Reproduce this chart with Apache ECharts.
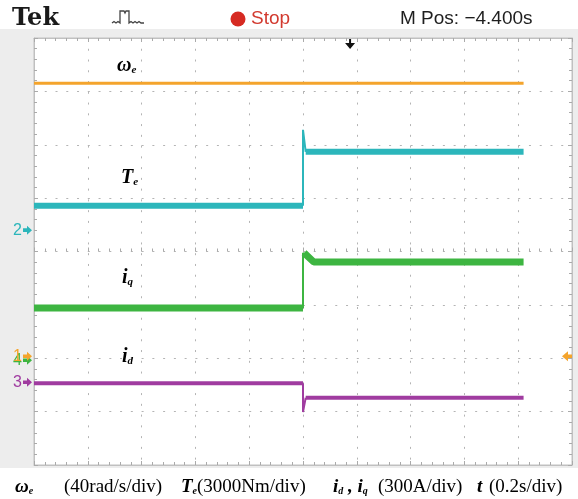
<!DOCTYPE html>
<html>
<head>
<meta charset="utf-8">
<script src="https://cdn.jsdelivr.net/npm/echarts@6/dist/echarts.min.js"></script>
<style>
  html, body { margin: 0; padding: 0; background: #fff; }
  #chart-container { width: 578px; height: 499px; }
</style>
</head>
<body>
<div id="chart-container"></div>
<script>
// time knots (s): load step and end of record
const stepTime = 1.0;
const endTime = 1.82;

// levels, in physical units
const omegaLevels = [206, 206];        // rad/s before / after step
const teLevels = [1370, 4400];         // Nm
const tePeak = 5640;
const iqLevels = [283, 541];           // A
const iqPeak = 592;
const idLevels = [-5, -87];            // A
const idPeak = -167;

// per-division scales and ground markers (divisions from screen centre)
const scales = { omega: 40, te: 3000, idq: 300 };
const grounds = { ch1: -2, ch2: 0.4, ch3: -2.45, ch4: -2 };

const colors = {
  ch1: "#f4a42c",
  ch2: "#2cb6bb",
  ch3: "#a03ca0",
  ch4: "#3db541",
};

function div(v, scale, ground) {
  return ground + v / scale;
}

// flat trace, thin edge at the step, flat trace again
function stepSeries(name, levels, peak, scale, ground, color, width, settle, thickOvershoot) {
  const a = div(levels[0], scale, ground);
  const b = div(levels[1], scale, ground);
  const p = div(peak, scale, ground);
  const after = thickOvershoot
    ? [[stepTime + 0.004, p], [stepTime + settle, b], [endTime, b]]
    : [[stepTime + settle, b], [endTime, b]];
  return [
    {
      name: name,
      type: "line",
      symbol: "none",
      color: color,
      lineStyle: { width: width, cap: "butt" },
      data: [[0, a], [stepTime, a]],
    },
    {
      name: name,
      type: "line",
      symbol: "none",
      color: color,
      lineStyle: { width: 2 },
      data: [[stepTime, a], [stepTime, p], [stepTime + settle, b]],
    },
    {
      name: name,
      type: "line",
      symbol: "none",
      color: color,
      lineStyle: { width: width, cap: "butt" },
      data: after,
    },
  ];
}

const dom = document.getElementById("chart-container");
const myChart = echarts.init(dom, null, { renderer: "canvas" });

const gridLine = {
  show: true,
  lineStyle: { color: "#b4b4b4", width: 1, type: [2, 8.76] },
};

function frameAxis(extra) {
  return Object.assign(
    {
      type: "value",
      axisLabel: { show: false },
      axisLine: { show: true, lineStyle: { color: "#c0c0c0" } },
      axisTick: { show: true, inside: true, length: 4, lineStyle: { color: "#aaa" } },
      minorTick: { show: true, splitNumber: 5, length: 3, lineStyle: { color: "#aaa" } },
      splitLine: { show: false },
    },
    extra
  );
}

const option = {
  animation: false,
  backgroundColor: "#fff",
  grid: {
    left: 34,
    right: 6,
    top: 38,
    bottom: 34,
    show: true,
    backgroundColor: "#fff",
    borderColor: "#c0c0c0",
    borderWidth: 1,
  },
  xAxis: [
    frameAxis({ position: "bottom", min: 0, max: 2, interval: 0.2, splitLine: gridLine, axisLine: { show: true, onZero: false, lineStyle: { color: "#c0c0c0" } } }),
    frameAxis({ position: "top", min: 0, max: 2, interval: 0.2, axisLine: { show: true, onZero: false, lineStyle: { color: "#c0c0c0" } } }),
    frameAxis({ position: "bottom", min: 0, max: 2, interval: 0.2, axisLine: { show: false, onZero: true, onZeroAxisIndex: 0 } }),
  ],
  yAxis: [
    frameAxis({ position: "left", min: -4, max: 4, interval: 1, splitLine: gridLine, axisLine: { show: true, onZero: false, lineStyle: { color: "#c0c0c0" } } }),
    frameAxis({ position: "right", min: -4, max: 4, interval: 1, axisLine: { show: true, onZero: false, lineStyle: { color: "#c0c0c0" } } }),
  ],
  series: [
    {
      name: "omega",
      type: "line",
      symbol: "none",
      color: colors.ch1,
      lineStyle: { width: 3 },
      data: [
        [0, div(omegaLevels[0], scales.omega, grounds.ch1)],
        [stepTime, div(omegaLevels[0], scales.omega, grounds.ch1)],
        [endTime, div(omegaLevels[1], scales.omega, grounds.ch1)],
      ],
    },
    ...stepSeries("Te", teLevels, tePeak, scales.te, grounds.ch2, colors.ch2, 6, 0.01, false),
    ...stepSeries("iq", iqLevels, iqPeak, scales.idq, grounds.ch4, colors.ch4, 7, 0.04, true),
    ...stepSeries("id", idLevels, idPeak, scales.idq, grounds.ch3, colors.ch3, 4, 0.01, false),
  ],
};

myChart.setOption(option);

// ---- decorations: scope frame, header, markers and captions ----
const serif = '"Liberation Serif", "DejaVu Serif", serif';
const sans = '"Liberation Sans", "DejaVu Sans", sans-serif';

function symText(x, y, parts, size) {
  // parts: [main, sub, main, sub ...]
  let text = "";
  parts.forEach((p, i) => {
    if (p === "") return;
    text += "{" + (i % 2 === 0 ? "m" : "s") + "|" + p + "}";
  });
  return {
    type: "text",
    x: x,
    y: y,
    style: {
      text: text,
      verticalAlign: "middle",
      rich: {
        m: { font: "italic bold " + size + "px " + serif, fill: "#000" },
        s: { font: "italic bold " + Math.round(size * 0.55) + "px " + serif, fill: "#000", padding: [size * 0.45, 0, 0, 0] },
      },
    },
  };
}

function rightArrow(x, y, color) {
  return {
    type: "polygon",
    shape: { points: [[x - 4, y - 1.8], [x, y - 1.8], [x, y - 4.5], [x + 5, y], [x, y + 4.5], [x, y + 1.8], [x - 4, y + 1.8]] },
    style: { fill: color },
  };
}

function leftArrow(x, y, color) {
  return {
    type: "polygon",
    shape: { points: [[x + 5, y - 1.8], [x, y - 1.8], [x, y - 5], [x - 6, y], [x, y + 5], [x, y + 1.8], [x + 5, y + 1.8]] },
    style: { fill: color },
  };
}

function marker(label, ground, color, dy) {
  const y = myChart.convertToPixel({ yAxisIndex: 0 }, ground) + (dy || 0);
  return [
    { type: "text", x: 22, y: y, style: { text: label, font: "16px " + sans, fill: color, align: "right", verticalAlign: "middle" } },
    rightArrow(27, y, color),
  ];
}

const trigX = myChart.convertToPixel({ xAxisIndex: 0 }, 1.175);

const captionFont = "19px " + serif;

const graphics = [
  { type: "rect", z: -10, silent: true, shape: { x: 0, y: 29, width: 578, height: 439 }, style: { fill: "#ededed" } },
  { type: "text", x: 12, y: 19, style: { text: "Tek", font: "bold 24px \"DejaVu Serif\", serif", fill: "#1a1a1a", verticalAlign: "middle" } },
  {
    type: "polyline",
    shape: {
      points: [[112, 23], [114, 21.5], [116, 23], [118, 21.5], [120, 23], [120, 11], [124, 11], [125, 13], [126, 11], [129, 11], [129, 23], [131, 21.5], [133, 23], [135, 21.5], [137, 23], [139, 21.5], [141, 23], [144, 23]],
    },
    style: { stroke: "#444", lineWidth: 1.3, fill: null },
  },
  { type: "circle", shape: { cx: 238, cy: 19, r: 7.5 }, style: { fill: "#d62a22" } },
  { type: "text", x: 251, y: 19, style: { text: "Stop", font: "19px " + sans, fill: "#d23a2f", verticalAlign: "middle" } },
  { type: "text", x: 400, y: 19, style: { text: "M Pos: \u22124.400s", font: "19px " + sans, fill: "#1e1e1e", verticalAlign: "middle" } },
  {
    type: "polygon",
    shape: { points: [[trigX - 1, 38], [trigX + 1, 38], [trigX + 1, 43], [trigX + 5, 43], [trigX, 49], [trigX - 5, 43], [trigX - 1, 43]] },
    style: { fill: "#111" },
  },
  ...marker("2", grounds.ch2, colors.ch2),
  ...marker("4", grounds.ch4, colors.ch4, 2),
  ...marker("1", grounds.ch1, colors.ch1, -2),
  ...marker("3", grounds.ch3, colors.ch3),
  leftArrow(568, myChart.convertToPixel({ yAxisIndex: 0 }, grounds.ch1) - 2, colors.ch1),
  symText(117, 66, ["\u03c9", "e"], 20),
  symText(121, 178, ["T", "e"], 20),
  symText(122, 278, ["i", "q"], 20),
  symText(122, 357, ["i", "d"], 20),
  // captions under the screen
  symText(15, 487, ["\u03c9", "e"], 19),
  { type: "text", x: 64, y: 487, style: { text: "(40rad/s/div)", font: captionFont, fill: "#000", verticalAlign: "middle" } },
  symText(181, 487, ["T", "e"], 19),
  { type: "text", x: 197, y: 487, style: { text: "(3000Nm/div)", font: captionFont, fill: "#000", verticalAlign: "middle" } },
  symText(333, 487, ["i", "d", " , i", "q"], 19),
  { type: "text", x: 378, y: 487, style: { text: "(300A/div)", font: captionFont, fill: "#000", verticalAlign: "middle" } },
  symText(477, 487, ["t", ""], 19),
  { type: "text", x: 489, y: 487, style: { text: "(0.2s/div)", font: captionFont, fill: "#000", verticalAlign: "middle" } },
];

myChart.setOption({ graphic: graphics });

window.addEventListener("resize", myChart.resize);
</script>
</body>
</html>
